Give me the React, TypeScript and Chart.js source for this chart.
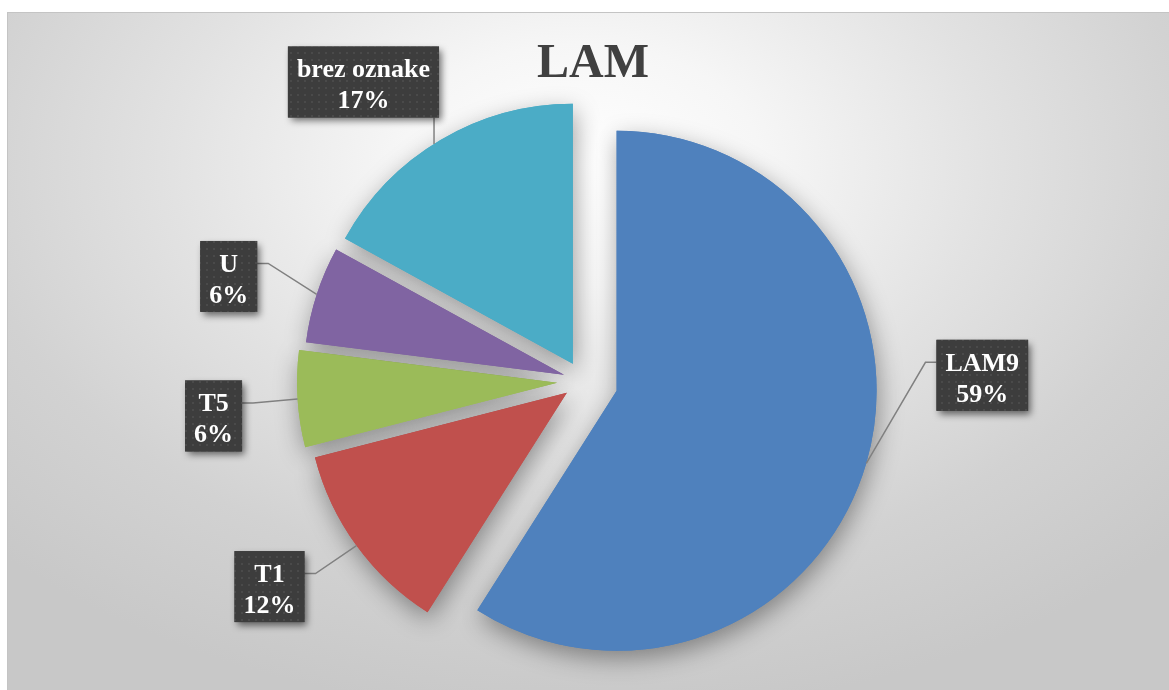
import React, { useEffect, useRef } from 'react';
import { Chart, registerables } from 'chart.js';

Chart.register(...registerables);

const categories = ['LAM9', 'T1', 'T5', 'U', 'brez oznake'];
const values = [59, 12, 6, 6, 17];
const colors = ['#4F81BD', '#C0504D', '#9BBB59', '#8064A2', '#4BACC6'];
const explodePx = [35, 20, 26, 20, 20];
const titleText = 'LAM';
// label box centre relative to the slice's outer midpoint
const labelShift: [number, number][] = [
  [116, -88],
  [-87, 41],
  [-84, 17],
  [-88, -18],
  [-77, -58],
];

const W = 1169;
const H = 690;
const RADIUS = 260;
const LABEL_FONT = 'bold 26px "Liberation Serif", "Times New Roman", serif';
const TITLE_FONT = 'bold 48px "Liberation Serif", "Times New Roman", serif';

function makePattern(ctx: CanvasRenderingContext2D) {
  const c = document.createElement('canvas');
  c.width = 7;
  c.height = 7;
  const p = c.getContext('2d')!;
  p.fillStyle = '#3d3d3d';
  p.fillRect(0, 0, 7, 7);
  p.fillStyle = '#4a4a4a';
  p.fillRect(3, 3, 2, 2);
  return ctx.createPattern(c, 'repeat');
}

const explodeFix = {
  id: 'explodeFix',
  afterDatasetsUpdate(chart: any) {
    const meta = chart.getDatasetMeta(0);
    meta.data.forEach((arc: any, i: number) => {
      const d = explodePx[i];
      const ro = d * (1 - Math.sin(Math.min(Math.PI, arc.circumference)));
      arc.outerRadius = RADIUS - ro;
      const a = ro / (2 * Math.PI * RADIUS);
      arc.startAngle -= a;
      arc.endAngle += a;
    });
  },
};

const shadowPlugin = {
  id: 'pieShadow',
  beforeDatasetsDraw(chart: any) {
    const ctx = chart.ctx;
    const meta = chart.getDatasetMeta(0);
    ctx.save();
    ctx.shadowColor = 'rgba(0,0,0,0.38)';
    ctx.shadowBlur = 24;
    ctx.shadowOffsetX = 2;
    ctx.shadowOffsetY = 8;
    meta.data.forEach((arc: any) => arc.draw(ctx));
    ctx.restore();
  },
};

const labelPlugin = {
  id: 'calloutLabels',
  afterDatasetsDraw(chart: any) {
    const ctx: CanvasRenderingContext2D = chart.ctx;
    const meta = chart.getDatasetMeta(0);
    const total = values.reduce((s, v) => s + v, 0);
    const pattern = makePattern(ctx);

    // title
    ctx.save();
    ctx.font = TITLE_FONT;
    ctx.fillStyle = '#404040';
    ctx.textAlign = 'center';
    ctx.textBaseline = 'alphabetic';
    ctx.fillText(titleText, 593, 77);
    ctx.restore();

    meta.data.forEach((arc: any, i: number) => {
      const h = (arc.startAngle + arc.endAngle) / 2;
      const r = explodePx[i] + RADIUS;
      const mx = arc.x + Math.cos(h) * r;
      const my = arc.y + Math.sin(h) * r;
      const line1 = categories[i];
      const line2 = Math.round((values[i] / total) * 100) + '%';
      ctx.save();
      ctx.font = LABEL_FONT;
      const tw = Math.max(ctx.measureText(line1).width, ctx.measureText(line2).width);
      const bw = tw + 18;
      const bh = 71;
      const cx = mx + labelShift[i][0];
      const cy = my + labelShift[i][1];
      const left = cx - bw / 2;
      const top = cy - bh / 2;
      const right = left + bw;
      const bottom = top + bh;

      // leader line
      ctx.strokeStyle = '#808080';
      ctx.lineWidth = 1.5;
      ctx.beginPath();
      const ay = top + 22.5;
      if (mx > right + 15) {
        ctx.moveTo(right, ay);
        ctx.lineTo(right + 11, ay);
        ctx.lineTo(mx, my);
      } else if (mx < left - 15) {
        ctx.moveTo(left, ay);
        ctx.lineTo(left - 11, ay);
        ctx.lineTo(mx, my);
      } else {
        const ax = Math.min(mx, right - 5);
        ctx.moveTo(ax, bottom);
        ctx.lineTo(ax, my + 4);
      }
      ctx.stroke();

      // box with shadow
      ctx.save();
      ctx.shadowColor = 'rgba(0,0,0,0.55)';
      ctx.shadowBlur = 7;
      ctx.shadowOffsetX = 3;
      ctx.shadowOffsetY = 4;
      ctx.fillStyle = '#3d3d3d';
      ctx.fillRect(left, top, bw, bh);
      ctx.restore();
      if (pattern) {
        ctx.fillStyle = pattern;
        ctx.fillRect(left, top, bw, bh);
      }

      ctx.fillStyle = '#ffffff';
      ctx.textAlign = 'center';
      ctx.textBaseline = 'alphabetic';
      ctx.fillText(line1, cx, top + 31);
      ctx.fillText(line2, cx, top + 62);
      ctx.restore();
    });
  },
};

export default function App() {
  const canvasRef = useRef<HTMLCanvasElement | null>(null);

  useEffect(() => {
    const canvas = canvasRef.current;
    if (!canvas) return;
    const chart = new Chart(canvas, {
      type: 'pie',
      data: {
        labels: categories,
        datasets: [
          {
            data: values,
            backgroundColor: colors,
            borderWidth: 0,
            offset: explodePx.map((d) => d * 4),
          } as any,
        ],
      },
      options: {
        responsive: false,
        animation: false,
        events: [],
        radius: RADIUS,
        layout: { padding: { left: 0, right: 3, top: 72, bottom: 0 } },
        plugins: {
          legend: { display: false },
          title: { display: false },
          tooltip: { enabled: false },
        },
      } as any,
      plugins: [explodeFix, shadowPlugin, labelPlugin],
    });
    return () => chart.destroy();
  }, []);

  return (
    <div
      style={{
        position: 'absolute',
        left: 0,
        top: 0,
        width: W,
        height: H,
        overflow: 'hidden',
        background: '#ffffff',
      }}
    >
      <div
        style={{
          position: 'absolute',
          left: 7,
          top: 12,
          width: W,
          height: H,
          borderTop: '1px solid #c4c4c4',
          borderLeft: '1px solid #c4c4c4',
          background:
            'radial-gradient(ellipse 70% 80% at 49% 22%, #ffffff 0%, #f6f6f6 22%, #e2e2e2 50%, #d2d2d2 75%, #c8c8c8 100%)',
        }}
      />
      <canvas
        ref={canvasRef}
        width={W}
        height={H}
        style={{ position: 'absolute', left: 0, top: 0, width: W, height: H }}
      />
    </div>
  );
}
